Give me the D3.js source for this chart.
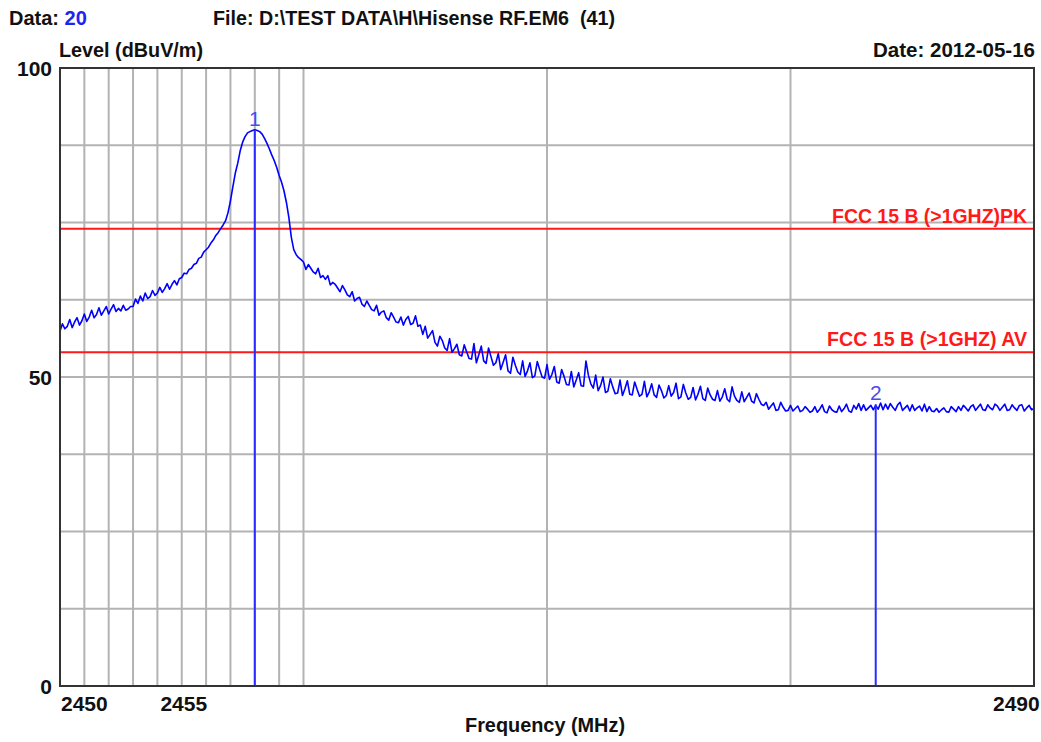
<!DOCTYPE html>
<html>
<head>
<meta charset="utf-8">
<script src="https://cdn.jsdelivr.net/npm/d3@7"></script>
<style>
    body { margin: 0; background: #fff; }
    svg text { font-family: "Liberation Sans", Arial, sans-serif; font-weight: bold; }
</style>
</head>
<body>
<svg id="chart" width="1041" height="742"></svg>
<script>
// Sweep: 2450 - 2490 MHz, 0.1 MHz per point
const sweepStart = 2450;
const sweepStep = 0.1;
const levels = [
    57.4, 58.6, 57.8, 58.2, 59.3, 58.0, 58.9, 59.6, 58.4, 59.1,
    60.2, 59.0, 59.7, 60.8, 59.6, 60.1, 61.2, 60.0, 60.7, 61.4,
    60.2, 61.0, 61.7, 60.6, 61.1, 60.7, 61.6, 60.8, 61.0, 61.4,
    61.4, 62.6, 61.9, 63.1, 62.3, 63.6, 62.7, 63.0, 64.0, 63.2,
    63.6, 64.5, 63.7, 64.3, 65.1, 64.2, 65.0, 65.6, 64.9, 65.9,
    66.1, 66.8, 66.7, 67.4, 67.6, 68.2, 68.4, 69.2, 69.4, 70.2,
    70.6, 71.0, 71.7, 72.2, 72.9, 73.4, 74.0, 74.6, 75.3, 76.6,
    78.5, 80.8, 83.0, 84.6, 86.6, 88.0, 88.9, 89.5, 89.7, 89.9,
    90.0, 89.9, 89.7, 89.3, 88.6, 87.8, 86.9, 85.9, 85.0, 83.9,
    82.6, 81.5, 80.1, 78.2, 75.8, 72.6, 70.6, 69.8, 69.3, 69.0,
    68.6, 67.4, 68.2, 67.6, 67.0, 66.7, 67.6, 66.1, 66.4, 65.8,
    66.4, 64.9, 65.3, 65.0, 64.4, 63.8, 64.8, 64.1, 63.3, 63.0,
    63.8, 62.3, 62.7, 62.9, 61.8, 61.4, 62.3, 61.6, 60.9, 60.7,
    61.6, 60.0, 60.5, 60.7, 59.6, 59.2, 60.4, 59.7, 58.9, 58.8,
    59.7, 58.4, 59.3, 59.8, 58.5, 58.7, 59.9, 58.2, 58.4, 56.9,
    58.2, 56.3, 56.9, 57.5, 55.6, 55.0, 56.6, 55.9, 54.7, 54.3,
    56.2, 54.0, 54.6, 55.3, 53.6, 53.4, 55.2, 54.1, 53.0, 52.9,
    55.4, 52.3, 53.6, 55.0, 52.6, 52.2, 54.7, 53.3, 51.9, 52.3,
    53.8, 51.2, 52.4, 53.6, 51.0, 50.6, 53.2, 51.9, 50.8, 50.4,
    52.6, 50.1, 51.0, 52.3, 49.9, 50.2, 52.5, 51.2, 50.0, 49.8,
    52.0, 49.6, 50.4, 51.7, 49.2, 49.0, 51.2, 50.1, 48.8, 48.7,
    50.9, 48.4, 49.5, 50.7, 48.6, 48.5, 52.6, 50.3, 48.9, 48.2,
    50.3, 47.8, 48.6, 50.0, 47.5, 47.7, 49.7, 48.4, 47.3, 47.4,
    49.5, 47.0, 48.1, 49.4, 47.2, 47.1, 49.2, 48.0, 46.9, 47.2,
    49.3, 46.8, 47.6, 48.9, 47.1, 46.7, 48.7, 47.8, 46.6, 47.0,
    48.6, 46.9, 47.5, 49.0, 46.5, 46.8, 48.8, 47.4, 46.4, 46.7,
    48.3, 46.3, 47.2, 48.5, 46.5, 46.2, 48.2, 47.1, 46.4, 46.2,
    47.8, 46.1, 46.8, 48.1, 46.4, 46.0, 48.4, 46.9, 46.2, 45.9,
    47.6, 46.0, 46.7, 47.4, 46.1, 45.8, 47.3, 46.4, 45.6, 45.4,
    45.9, 44.8, 45.3, 45.8, 44.6, 44.7, 45.9, 45.1, 44.5, 44.6,
    45.4, 44.5, 44.9, 45.3, 44.4, 44.6, 45.2, 44.8, 44.3, 44.5,
    45.2, 44.3, 44.8, 45.5, 44.4, 44.2, 45.3, 44.7, 44.4, 44.3,
    45.3, 44.4, 44.9, 45.6, 44.5, 44.3, 45.4, 44.8, 45.7, 44.6,
    45.5, 44.6, 45.0, 45.4, 44.7, 45.4, 44.8, 45.8, 44.7, 45.6,
    44.8, 45.7, 45.1, 44.6, 45.5, 45.9, 44.6, 45.0, 45.4, 44.5,
    45.5, 44.6, 45.0, 45.3, 44.5, 45.6, 44.4, 45.2, 44.5, 44.4,
    44.9, 44.3, 44.7, 45.0, 44.4, 44.3, 45.2, 44.8, 44.4, 45.2,
    44.6, 45.4, 45.0, 44.5, 45.2, 45.5, 44.6, 45.1, 45.6, 44.7,
    44.6, 45.5, 45.0, 44.7, 45.6, 45.3, 44.6, 45.1, 45.6, 44.6,
    44.7, 45.5, 45.0, 44.6, 45.4, 45.5, 44.5, 45.0, 45.4, 44.7,
    44.9
];

// Limit lines
const limitNames = ["FCC 15 B (>1GHZ)PK", "FCC 15 B (>1GHZ) AV"];
const limitLevels = [74, 54];

// Markers
const markerLabels = ["1", "2"];
const markerFreqs = [2458.0, 2483.5];
const markerLevels = [90.0, 45.6];

// Axes
const freqDomain = [2450, 2490];
const levelDomain = [0, 100];
const xGridMinor = [2451, 2452, 2453, 2454, 2455, 2456, 2457, 2458, 2459];
const xGridMajor = [2460, 2470, 2480];
const xTickLabels = [2450, 2455, 2490];
const yGrid = [12.5, 25, 37.5, 50, 62.5, 75, 87.5];
const yTickLabels = [0, 50, 100];

let plotLeft = 60, plotRight = 1034, plotTop = 68, plotBottom = 686;

let svg = d3.select("#chart");

let x = d3.scaleLinear().domain(freqDomain).range([plotLeft, plotRight]);
let y = d3.scaleLinear().domain(levelDomain).range([plotBottom, plotTop]);

// Grid
let grid = svg.append("g")
    .attr("stroke", "#b3b3b3")
    .attr("stroke-width", 2);

grid.selectAll(".vg")
    .data(xGridMinor.concat(xGridMajor))
    .join("line")
    .attr("x1", d => x(d)).attr("x2", d => x(d))
    .attr("y1", plotTop).attr("y2", plotBottom);

grid.selectAll(".hg")
    .data(yGrid)
    .join("line")
    .attr("x1", plotLeft).attr("x2", plotRight)
    .attr("y1", d => y(d)).attr("y2", d => y(d));

// Limit lines
svg.selectAll(".limit")
    .data(limitLevels)
    .join("line")
    .attr("x1", plotLeft).attr("x2", plotRight)
    .attr("y1", d => y(d)).attr("y2", d => y(d))
    .attr("stroke", "#ff1a1a")
    .attr("stroke-width", 2);

svg.selectAll(".limitLabel")
    .data(limitLevels)
    .join("text")
    .attr("x", 1027)
    .attr("y", d => y(d) - 6)
    .attr("text-anchor", "end")
    .attr("fill", "#ff1a1a")
    .style("font-size", "20px")
    .attr("textLength", (d, i) => i === 0 ? 195 : 200)
    .attr("lengthAdjust", "spacingAndGlyphs")
    .text((d, i) => limitNames[i]);

// Trace
let line = d3.line()
    .x((d, i) => x(sweepStart + i * sweepStep))
    .y(d => y(d));

svg.append("path")
    .datum(levels)
    .attr("d", line)
    .attr("fill", "none")
    .attr("stroke", "#0000ff")
    .attr("stroke-width", 1.6)
    .attr("stroke-linejoin", "round");

// Markers
svg.selectAll(".marker")
    .data(markerFreqs)
    .join("line")
    .attr("x1", d => x(d)).attr("x2", d => x(d))
    .attr("y1", (d, i) => y(markerLevels[i]))
    .attr("y2", plotBottom)
    .attr("stroke", "#2a2aff")
    .attr("stroke-width", 2);

svg.selectAll(".markerLabel")
    .data(markerFreqs)
    .join("text")
    .attr("x", d => x(d))
    .attr("y", (d, i) => y(markerLevels[i]) - 4)
    .attr("text-anchor", "middle")
    .attr("fill", "#4b4bf0")
    .style("font-size", "21px")
    .style("font-weight", "normal")
    .text((d, i) => markerLabels[i]);

// Frame
svg.append("rect")
    .attr("x", plotLeft).attr("y", plotTop)
    .attr("width", plotRight - plotLeft).attr("height", plotBottom - plotTop)
    .attr("fill", "none")
    .attr("stroke", "#333")
    .attr("stroke-width", 2);

// Tick labels
svg.selectAll(".xLabel")
    .data(xTickLabels)
    .join("text")
    .attr("x", d => d === 2450 ? x(d) + 1 : x(d) + (d === 2490 ? -41 : 2))
    .attr("y", 711)
    .attr("text-anchor", d => d === 2455 ? "middle" : "start")
    .style("font-size", "21px")
    .attr("fill", "#111")
    .text(d => d);

svg.selectAll(".yLabel")
    .data(yTickLabels)
    .join("text")
    .attr("x", 52)
    .attr("y", d => y(d) + 8)
    .attr("text-anchor", "end")
    .style("font-size", "21px")
    .attr("fill", "#111")
    .text(d => d);

// Titles
let head = svg.append("text")
    .attr("x", 9).attr("y", 25)
    .style("font-size", "20px")
    .attr("fill", "#111");
head.append("tspan").text("Data: ");
head.append("tspan").attr("fill", "#2222ee").text("20");

svg.append("text")
    .attr("x", 213).attr("y", 25)
    .style("font-size", "20px")
    .attr("fill", "#111")
    .attr("textLength", 402)
    .attr("lengthAdjust", "spacingAndGlyphs")
    .attr("xml:space", "preserve")
    .text("File: D:\\TEST DATA\\H\\Hisense RF.EM6  (41)");

svg.append("text")
    .attr("x", 59).attr("y", 57)
    .style("font-size", "20px")
    .attr("fill", "#111")
    .attr("textLength", 144)
    .attr("lengthAdjust", "spacingAndGlyphs")
    .text("Level (dBuV/m)");

svg.append("text")
    .attr("x", 1035).attr("y", 57)
    .attr("text-anchor", "end")
    .style("font-size", "20px")
    .attr("fill", "#111")
    .attr("textLength", 162)
    .attr("lengthAdjust", "spacingAndGlyphs")
    .text("Date: 2012-05-16");

svg.append("text")
    .attr("x", 545).attr("y", 732)
    .attr("text-anchor", "middle")
    .style("font-size", "20px")
    .attr("fill", "#111")
    .attr("textLength", 160)
    .attr("lengthAdjust", "spacingAndGlyphs")
    .text("Frequency (MHz)");
</script>
</body>
</html>
